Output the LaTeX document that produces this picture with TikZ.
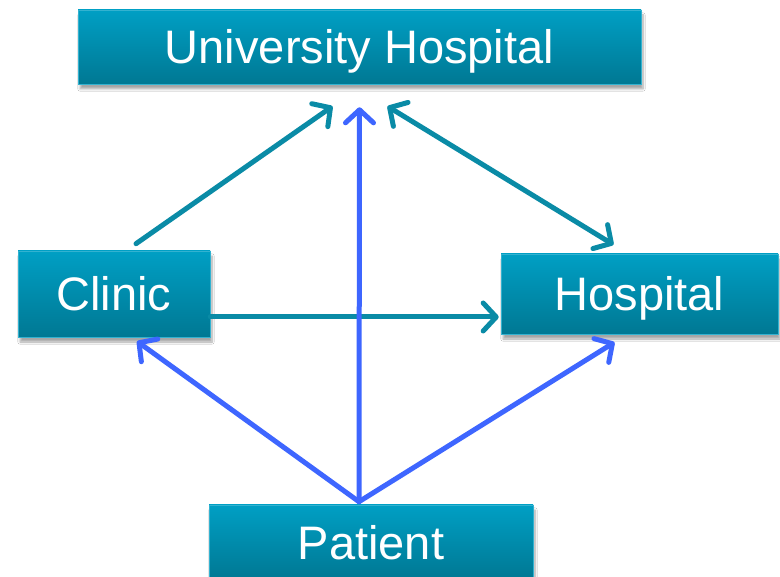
\documentclass[tikz,border=0pt]{standalone}
\usepackage{fontspec}
\setmainfont{Liberation Sans}
\usetikzlibrary{arrows.meta,calc,shadows.blur}
\definecolor{boxtop}{HTML}{009FC4}
\definecolor{boxbot}{HTML}{007893}
\definecolor{tealline}{HTML}{0A8BA6}
\definecolor{blueline}{HTML}{3E66FF}
\tikzset{
  boxnode/.style={rectangle, top color=boxtop, bottom color=boxbot, draw=boxtop!80!white, line width=0.6pt,
    text=white, font=\fontsize{47}{56}\selectfont, inner sep=0pt, text height=34pt, text depth=0pt,
    blur shadow={shadow xshift=2pt, shadow yshift=-5pt, shadow blur steps=8, shadow opacity=35}},
  tealarrow/.style={draw=tealline, line width=5pt, line cap=round, -{Straight Barb[length=13pt,width=28pt,round]}},
  tealboth/.style={draw=tealline, line width=5pt, line cap=round, {Straight Barb[length=13pt,width=28pt,round]}-{Straight Barb[length=13pt,width=28pt,round]}},
  bluearrow/.style={draw=blueline, line width=5pt, line cap=round, -{Straight Barb[length=13pt,width=28pt,round]}}
}
\begin{document}
\begin{tikzpicture}[x=1pt,y=-1pt]
\useasboundingbox (0,0) rectangle (780,577);
\fill[white] (0,0) rectangle (780,577);
\node[boxnode, minimum width=563pt, minimum height=74pt] (uni) at (359.5,47) {University Hospital};
\node[boxnode, minimum width=192pt, minimum height=86pt] (clinic) at (114,294) {Clinic};
\node[boxnode, minimum width=277pt, minimum height=80pt] (hosp) at (639.5,294) {Hospital};
\node[boxnode, minimum width=324pt, minimum height=74pt] (patient) at (371,542) {Patient};
\coordinate (p) at ($(patient.north)+(-12,-3)$);
\draw[tealarrow] ($(clinic.north)+(22,-7)$) -- ($(uni.south)+(-27,22)$);
\draw[tealarrow] ($(clinic.east)+(0,23)$) -- ($(hosp.west)+(-2,23)$);
\draw[tealboth] ($(uni.south)+(28,22)$) -- ($(hosp.north)+(-26,-9)$);
\draw[bluearrow] (p) -- ($(uni.south)+(0,23)$);
\draw[bluearrow] (p) -- ($(clinic.south)+(23,4)$);
\draw[bluearrow] (p) -- ($(hosp.south)+(-25,8)$);
\end{tikzpicture}
\end{document}
